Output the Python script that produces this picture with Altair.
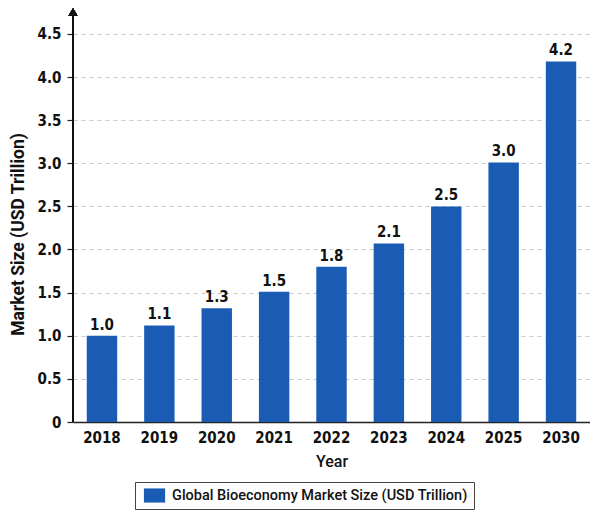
import altair as alt
import pandas as pd

years = ["2018", "2019", "2020", "2021", "2022", "2023", "2024", "2025", "2030"]
values = [1.0, 1.12, 1.32, 1.51, 1.80, 2.07, 2.50, 3.01, 4.18]
labels = ["1.0", "1.1", "1.3", "1.5", "1.8", "2.1", "2.5", "3.0", "4.2"]
series = "Global Bioeconomy Market Size (USD Trillion)"
y_ticks = [0, 0.5, 1.0, 1.5, 2.0, 2.5, 3.0, 3.5, 4.0, 4.5]

df = pd.DataFrame({"Year": years, "Value": values, "Label": labels, "Series": series})

NARROW = "Liberation Sans Narrow, DejaVu Sans Condensed, Roboto, sans-serif"
BLUE = "#1a5cb4"

x = alt.X("Year:N", sort=years,
          scale=alt.Scale(paddingInner=0.47, paddingOuter=0.24),
          axis=alt.Axis(title="Year", labelAngle=0, ticks=False, domain=True,
                        domainColor="#222", domainWidth=1.5,
                        labelFont=NARROW, labelFontSize=15, labelFontWeight=600,
                        labelColor="#111", labelPadding=8,
                        titleFont="Roboto", titleFontSize=16, titleFontWeight=500,
                        titleColor="#111", titlePadding=8))
y = alt.Y("Value:Q",
          scale=alt.Scale(domain=[0, 4.8], nice=False, zero=True),
          axis=alt.Axis(title="Market Size (USD Trillion)", values=y_ticks,
                        labelExpr="datum.value == 0 ? '0' : format(datum.value, '.1f')",
                        grid=True, gridDash=[4, 4], gridColor="#c8c8c8", gridWidth=1,
                        domain=False, tickColor="#222", tickSize=6, tickWidth=1.2,
                        labelFont=NARROW, labelFontSize=15, labelFontWeight=600,
                        labelColor="#111", labelPadding=6,
                        titleFont="Roboto", titleFontSize=17.5, titleFontWeight="bold",
                        titleColor="#111", titleAngle=270, titleX=-55, titleY=226,
                        titleAlign="center", titleBaseline="middle"))

bars = alt.Chart(df).mark_bar(color=BLUE).encode(
    x=x, y=y,
    color=alt.Color("Series:N", scale=alt.Scale(range=[BLUE]),
                    legend=alt.Legend(title=None, orient="none", legendX=62, legendY=474,
                                      symbolType="M-1.5,-1L1.5,-1L1.5,1L-1.5,1Z",
                                      symbolSize=200, symbolStrokeWidth=0,
                                      labelFont="Roboto", labelFontSize=14.5, labelColor="#111",
                                      labelFontWeight=500, labelLimit=0,
                                      strokeColor="#444", padding=6, rowPadding=0,
                                      symbolOffset=6, labelOffset=10)),
)

text = alt.Chart(df).mark_text(dy=-11, font=NARROW, fontSize=15, fontWeight=600,
                               color="#111").encode(
    x=alt.X("Year:N", sort=years), y="Value:Q", text="Label:N")

yaxis_line = alt.Chart(df).mark_rule(color="#111", strokeWidth=1.5).encode(
    x=alt.value(0), y=alt.value(4), y2=alt.value(414))

arrow = alt.Chart(df).mark_point(shape="triangle-up", filled=True, color="#111",
                                 size=80, opacity=1).encode(
    x=alt.value(0), y=alt.value(4))

chart = alt.layer(bars, text, yaxis_line, arrow).properties(
    width=517, height=414,
    autosize=alt.AutoSizeParams(type="none"),
    padding={"left": 73, "top": 8, "right": 0, "bottom": 89},
    background="white",
).configure_view(stroke=None)

chart.save("out.html", embed_options={"renderer": "svg", "actions": False})
